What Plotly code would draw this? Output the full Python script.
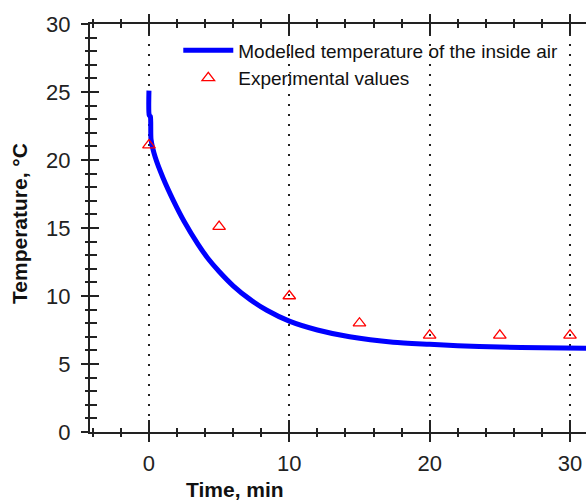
import plotly.graph_objects as go

# Modelled curve
model_t = [0, 0.02, 0.1, 0.15, 0.45, 1.0, 1.75, 2.5, 3.5, 4.25, 5.0, 6.0, 7.2, 8.4, 10.0,
           12.0, 14.3, 17.4, 20.0, 22.0, 25.0, 28.0, 31.5]
model_T = [25.1, 23.3, 23.2, 21.5, 20.2, 18.7, 17.0, 15.5, 13.8, 12.7, 11.8, 10.75, 9.75, 8.95, 8.15,
           7.5, 7.0, 6.6, 6.45, 6.35, 6.25, 6.2, 6.15]

# Experimental values
exp_t = [0, 5, 10, 15, 20, 25, 30]
exp_T = [21.1, 15.1, 10.0, 8.0, 7.1, 7.1, 7.1]

x_major = [0, 10, 20, 30]
y_major = [0, 5, 10, 15, 20, 25, 30]

FONT = "Arial, Liberation Sans, sans-serif"
AX = "#222222"

fig = go.Figure()
fig.add_trace(go.Scatter(
    x=model_t, y=model_T, mode="lines",
    line=dict(color="#0000FF", width=5, shape="spline", smoothing=0.7),
    name="Modelled temperature of the inside air",
    xaxis="x", yaxis="y",
))
fig.add_trace(go.Scatter(
    x=exp_t, y=exp_T, mode="markers",
    marker=dict(symbol="triangle-up-open", size=11, color="#FF0000",
                line=dict(color="#FF0000", width=1.3)),
    name="Experimental values",
    xaxis="x2", yaxis="y2",
))

xr = [-4.2, 31.14]
yr = [0, 30]

common_x = dict(range=xr, tickvals=x_major, showline=True, linecolor=AX, linewidth=2,
                tickcolor=AX, tickwidth=1.5, zeroline=False, mirror="ticks")
common_y = dict(range=yr, tickvals=y_major, showline=True, linecolor=AX, linewidth=2,
                tickcolor=AX, tickwidth=1.5, zeroline=False, showgrid=False)

fig.update_layout(
    width=586, height=502,
    margin=dict(l=90, r=0, t=24, b=70),
    plot_bgcolor="white", paper_bgcolor="white",
    font=dict(family=FONT, color="#222222"),
    showlegend=True,
    legend=dict(x=0.178, y=0.982, xanchor="left", yanchor="top",
                bgcolor="rgba(0,0,0,0)", borderwidth=0,
                font=dict(size=19, family=FONT, color="#111111"),
                itemwidth=50, tracegroupgap=0),
    xaxis=dict(**common_x, ticks="outside", ticklen=8,
               showgrid=True, gridcolor="#222222", gridwidth=1.5, griddash="2px,8px",
               showticklabels=True, tickfont=dict(size=22, family=FONT, color="#222222"),
               ticklabelstandoff=3,
               minor=dict(dtick=2, ticks="outside", ticklen=3, tickcolor=AX, tickwidth=1.5)),
    xaxis2=dict(**common_x, overlaying="x", matches="x", anchor="y2", ticks="inside", ticklen=12,
                showgrid=False, showticklabels=False,
                minor=dict(dtick=2, ticks="inside", ticklen=4, tickcolor=AX, tickwidth=1.5)),
    yaxis=dict(**common_y, ticks="outside", ticklen=7, mirror=False,
               tickfont=dict(size=22, family=FONT, color="#222222"),
               ticklabelstandoff=6,
               minor=dict(dtick=1, ticks="outside", ticklen=3, tickcolor=AX, tickwidth=1.5)),
    yaxis2=dict(**common_y, overlaying="y", matches="y", anchor="x2", side="left",
                ticks="inside", ticklen=9, showticklabels=False,
                minor=dict(dtick=1, ticks="inside", ticklen=7, tickcolor=AX, tickwidth=1.5)),
    annotations=[
        dict(text="<b>Time, min</b>", xref="paper", yref="paper", x=0.292, y=-0.142,
             xanchor="center", yanchor="middle", showarrow=False,
             font=dict(size=21, family=FONT, color="#111111")),
        dict(text="<b>Temperature, °C</b>", xref="paper", yref="paper", x=-0.141, y=0.51,
             xanchor="center", yanchor="middle", textangle=-90, showarrow=False,
             font=dict(size=21, family=FONT, color="#111111")),
    ],
)

fig.write_html("out.html")
